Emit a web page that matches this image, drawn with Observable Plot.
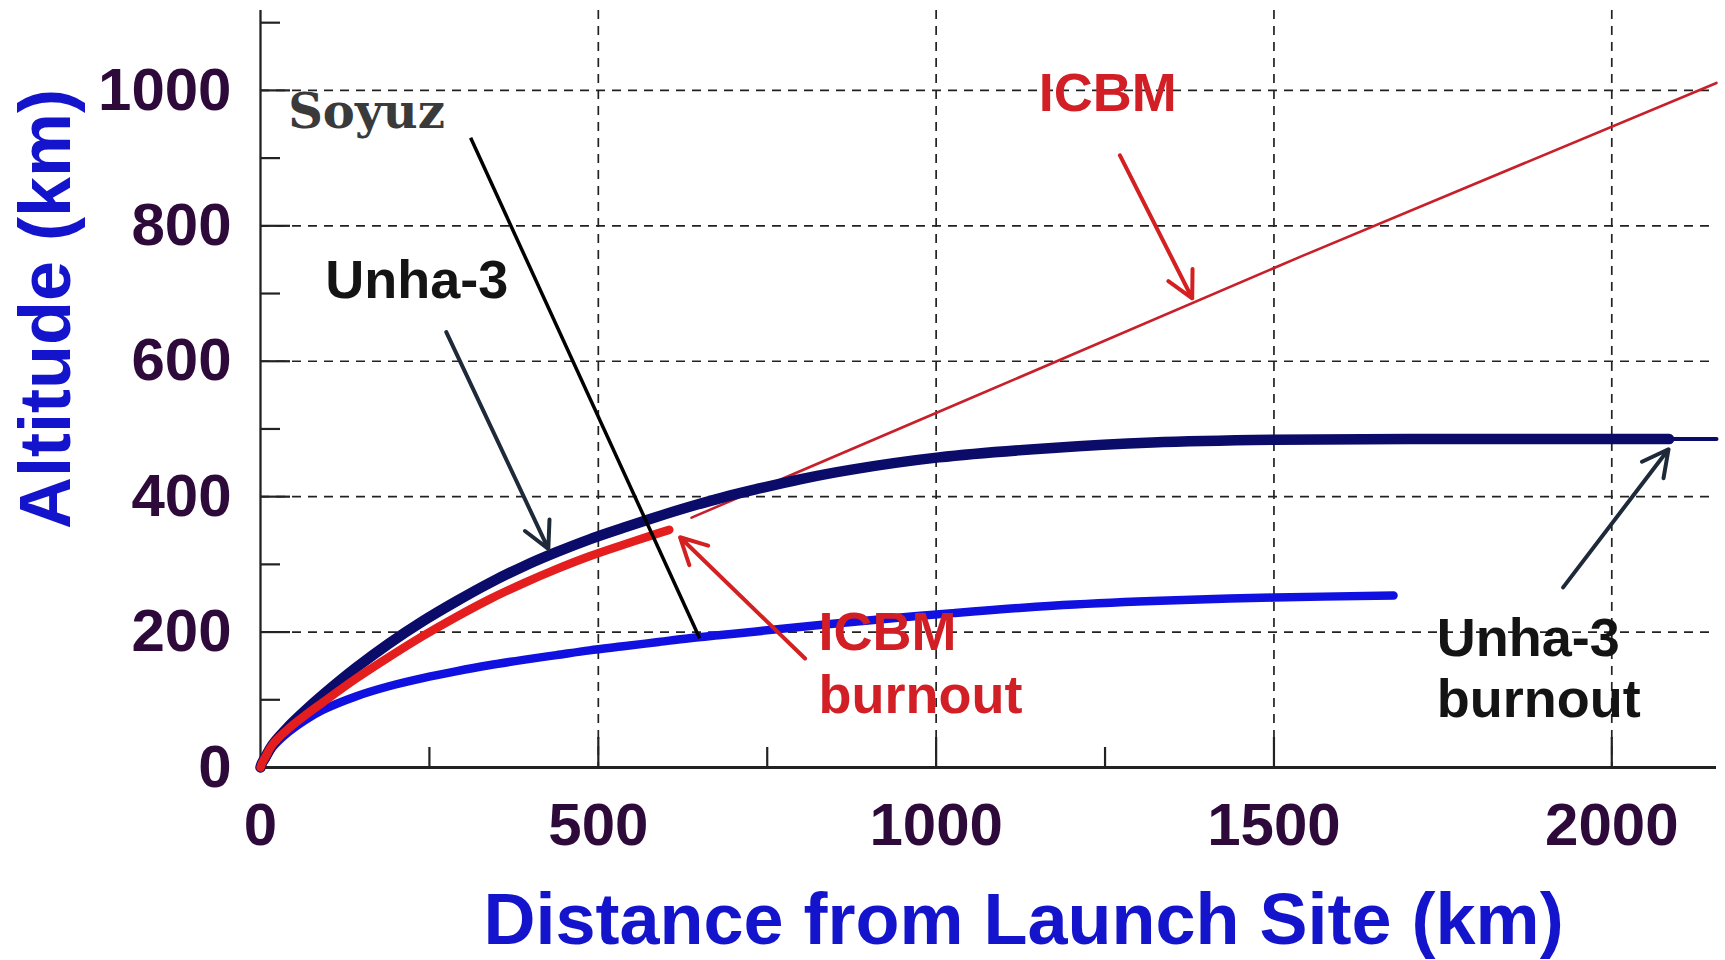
<!DOCTYPE html>
<html>
<head>
<meta charset="utf-8">
<script src="https://cdn.jsdelivr.net/npm/d3@7"></script>
<script src="https://cdn.jsdelivr.net/npm/@observablehq/plot@0.6"></script>
<style>
  html, body { margin: 0; padding: 0; background: #fff; overflow: hidden; }
  #chart svg { display: block; }
</style>
</head>
<body>
<div id="chart"></div>
<script>
// ---- Data ----
// Unha-3 trajectory (thick until burnout)
const unhaX = [0, 2, 7, 18, 41, 66, 92, 141, 190, 240, 289, 338, 389, 438, 487, 537, 586, 635, 685, 734, 800, 875, 1004, 1172, 1320, 1500, 1700, 1900, 2085];
const unhaY = [0, 6, 15, 34, 60, 84, 107, 147, 183, 216, 245, 272, 297, 318, 337, 354, 370, 385, 399, 411, 426, 440, 458, 472, 480, 484, 485, 485, 485];
// Unha-3 after burnout (thin)
const unhaTailX = [2085, 2155];
const unhaTailY = [485, 485];
// ICBM powered flight (thick)
const icbmBoostX = [0, 2, 7, 18, 41, 66, 92, 141, 190, 240, 289, 338, 389, 438, 487, 537, 586, 605];
const icbmBoostY = [0, 6, 15, 34, 57, 77, 96, 131, 163, 194, 222, 248, 272, 293, 312, 329, 345, 351];
// ICBM after burnout (thin)
const icbmCoastX = [638, 1043, 1543, 2155];
const icbmCoastY = [369, 542, 756, 1011];
// Soyuz trajectory
const soyuzX = [0, 2, 7, 18, 41, 66, 92, 141, 190, 240, 289, 338, 389, 438, 487, 537, 586, 635, 685, 734, 875, 1024, 1172, 1320, 1500, 1677];
const soyuzY = [0, 5, 12, 30, 52, 70, 85, 105, 120, 132, 142, 151, 159, 166, 173, 179, 185, 191, 196, 201, 215, 228, 239, 246, 251, 254];

// Axis ticks
const xTickLabels = [0, 500, 1000, 1500, 2000];
const yTickLabels = [0, 200, 400, 600, 800, 1000];
const xGrid = [500, 1000, 1500, 2000];
const yGrid = [200, 400, 600, 800, 1000];
const xMinorTicks = [250, 750, 1250];
const yMinorTicks = [100, 300, 500, 700, 900, 1100];

// Annotations
const labelText  = ["Unha-3", "ICBM", "ICBM", "burnout", "Unha-3", "burnout"];
const labelX     = [96, 1152, 826, 826, 1741, 1741];
const labelY     = [693, 970, 173, 80, 165, 74];
const labelColor = ["#141414", "#d21f26", "#d21f26", "#d21f26", "#141414", "#141414"];

const soyuzLabelX = [41];
const soyuzLabelY = [944];

const arrowX1 = [275, 1272, 806, 1928];
const arrowY1 = [643, 904, 161, 266];
const arrowX2 = [426, 1379, 621, 2084];
const arrowY2 = [323, 693, 340, 470];
const arrowColor = ["#1e2a3a", "#d42020", "#d42020", "#1e2a3a"];

const soyuzPointerX = [311, 650];
const soyuzPointerY = [930, 191];

// ---- Build tables ----
const rows = (xs, ys) => xs.map((x, i) => ({x, y: ys[i]}));
const unha = rows(unhaX, unhaY);
const unhaTail = rows(unhaTailX, unhaTailY);
const icbmBoost = rows(icbmBoostX, icbmBoostY);
const icbmCoast = rows(icbmCoastX, icbmCoastY);
const soyuz = rows(soyuzX, soyuzY);
const labels = labelText.map((t, i) => ({t, x: labelX[i], y: labelY[i], c: labelColor[i]}));
const arrows = arrowX1.map((x1, i) => ({x1, y1: arrowY1[i], x2: arrowX2[i], y2: arrowY2[i], c: arrowColor[i]}));
const soyuzPointer = [{x1: soyuzPointerX[0], y1: soyuzPointerY[0], x2: soyuzPointerX[1], y2: soyuzPointerY[1]}];
const soyuzLabel = [{t: "Soyuz", x: soyuzLabelX[0], y: soyuzLabelY[0]}];

const W = 1725, H = 960;
const mL = 260, mR = 9, mT = 10, mB = 193;
const innerW = W - mL - mR, innerH = H - mT - mB;

const tickColor = "#2e0a3a";
const titleBlue = "#1414cc";
const gridStyle = {stroke: "#222", strokeWidth: 1.7, strokeDasharray: "9,7"};

const chart = Plot.plot({
  width: W,
  height: H,
  marginLeft: mL,
  marginRight: mR,
  marginTop: mT,
  marginBottom: mB,
  style: {fontFamily: "'Liberation Sans', Arial, Helvetica, sans-serif", background: "#fff", overflow: "visible"},
  x: {domain: [0, 2155]},
  y: {domain: [0, 1118]},
  color: {type: "identity"},
  marks: [
    // dashed grid
    Plot.ruleX(xGrid, {x: d => d, ...gridStyle}),
    Plot.ruleY(yGrid, {y: d => d, ...gridStyle}),
    // inward ticks
    Plot.tickY(yMinorTicks, {y: d => d, insetRight: innerW - 20, stroke: "#222", strokeWidth: 2.2}),
    Plot.tickY(yGrid, {y: d => d, insetRight: innerW - 30, stroke: "#222", strokeWidth: 2.2}),
    Plot.tickX(xMinorTicks, {x: d => d, insetTop: innerH - 20, stroke: "#222", strokeWidth: 2.2}),
    Plot.tickX(xGrid, {x: d => d, insetTop: innerH - 30, stroke: "#222", strokeWidth: 2.2}),
    // axis lines
    Plot.ruleX([0], {stroke: "#222", strokeWidth: 2.3}),
    Plot.ruleY([0], {stroke: "#222", strokeWidth: 2.8}),
    // tick labels
    Plot.axisY({ticks: yTickLabels, tickSize: 0, tickPadding: 29, label: null, fontSize: 60, fontWeight: "bold", fill: tickColor, tickFormat: d => String(d)}),
    Plot.axisX({ticks: xTickLabels, tickSize: 0, tickPadding: 35, label: null, fontSize: 60, fontWeight: "bold", fill: tickColor, tickFormat: d => String(d)}),
    // axis titles
    Plot.text(["Altitude (km)"], {text: d => d, frameAnchor: "left", rotate: -90, dx: -191, dy: -80, textAnchor: "middle", lineAnchor: "bottom", fontSize: 72, fontWeight: "bold", fill: titleBlue}),
    Plot.text(["Distance from Launch Site (km)"], {text: d => d, frameAnchor: "bottom", dx: 35, dy: 176, textAnchor: "middle", lineAnchor: "bottom", fontSize: 72, fontWeight: "bold", fill: titleBlue}),
    // trajectories
    Plot.line(icbmCoast, {x: "x", y: "y", stroke: "#c8202a", strokeWidth: 2.6, curve: "linear"}),
    Plot.line(soyuz, {x: "x", y: "y", stroke: "#1010e0", strokeWidth: 8.5, curve: "catmull-rom"}),
    Plot.line(unhaTail, {x: "x", y: "y", stroke: "#0b0b6a", strokeWidth: 4}),
    Plot.line(unha, {x: "x", y: "y", stroke: "#0b0b6a", strokeWidth: 10.5, curve: "catmull-rom"}),
    Plot.line(icbmBoost, {x: "x", y: "y", stroke: "#e41e1e", strokeWidth: 8.5, curve: "catmull-rom"}),
    // pointers
    Plot.link(soyuzPointer, {x1: "x1", y1: "y1", x2: "x2", y2: "y2", stroke: "#000", strokeWidth: 3.5}),
    Plot.arrow(arrows, {x1: "x1", y1: "y1", x2: "x2", y2: "y2", stroke: "c", strokeWidth: 4, headLength: 11, headAngle: 55}),
    // labels
    Plot.text(labels, {x: "x", y: "y", text: "t", fill: "c", textAnchor: "start", lineAnchor: "bottom", fontSize: 54, fontWeight: "bold"}),
    Plot.text(soyuzLabel, {x: "x", y: "y", text: "t", fill: "#3a3a3a", textAnchor: "start", lineAnchor: "bottom", fontSize: 48, fontWeight: "bold", fontFamily: "'DejaVu Serif', 'Liberation Serif', serif"})
  ]
});

document.getElementById("chart").appendChild(chart);
</script>
</body>
</html>
